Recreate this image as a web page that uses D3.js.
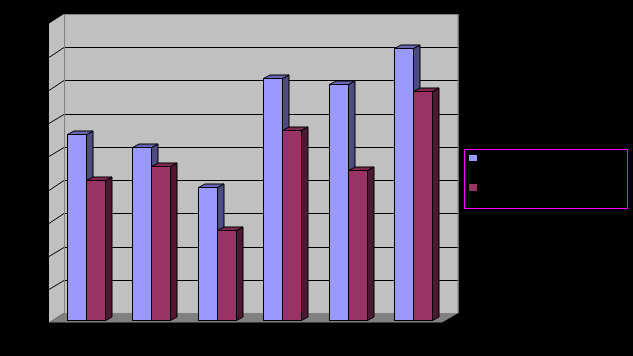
<!DOCTYPE html>
<html><head><meta charset="utf-8">
<script src="https://cdnjs.cloudflare.com/ajax/libs/d3/7.8.5/d3.min.js"></script>
<style>html,body{margin:0;padding:0;background:#000;overflow:hidden}svg{display:block}</style>
</head><body><svg id="c" width="633" height="356"></svg>
<script>
const categories = ["1","2","3","4","5","6"];
const seriesA = [5.62,5.25,4.04,7.31,7.13,8.22];
const seriesB = [4.25,4.66,2.72,5.74,4.54,6.92];
const yTicks = [0,1,2,3,4,5,6,7,8,9];

const svg = d3.select("#c");
const W=633,H=356;
svg.append("rect").attr("width",W).attr("height",H).attr("fill","#000");

const yWall = d3.scaleLinear().domain([0,9]).range([322.5,23.5]);
const y = d3.scaleLinear().domain([0,9]).range([320.5,22.5]);
const x = d3.scaleBand().domain(categories).range([53,446]).paddingInner(0.5).paddingOuter(0.25);
const dx=15, dy=-9.5;      // wall depth
const bdx=6.5, bdy=-3.5;   // bar depth
const yBack = v => yWall(v)+dy;
const x0=49, x1=442;

const poly=(pts,fill,stroke,sw=1)=>svg.append("polygon").attr("points",pts.map(p=>p.join(",")).join(" "))
  .attr("fill",fill).attr("stroke",stroke||"none").attr("stroke-width",sw);

// back wall, side wall, floor
poly([[x0+dx,yBack(9)],[x1+dx+1.5,yBack(9)],[x1+dx+1.5,yBack(0)],[x0+dx,yBack(0)]],"#c0c0c0");
poly([[x0,yWall(9)],[x0+dx,yBack(9)],[x0+dx,yBack(0)],[x0,yWall(0)]],"#c0c0c0");
poly([[x0,yWall(0)],[x0+dx,yBack(0)],[x1+dx+1.5,yBack(0)],[x1,yWall(0)]],"#808080");

// gridlines
svg.append("g").selectAll("path").data(yTicks.slice(1,-1)).join("path")
  .attr("d",v=>`M${x0},${Math.round(yWall(v))+0.5}L${x0+dx},${Math.round(yBack(v))+0.5}L${x1+dx+1.5},${Math.round(yBack(v))+0.5}`)
  .attr("fill","none").attr("stroke","#000").attr("stroke-width",1);
// wall edges
svg.append("path").attr("d",`M${x0+dx+0.5},${yBack(0)}V${yBack(9)+0.5}H${x1+dx+1}V${yBack(0)}`)
  .attr("fill","none").attr("stroke","#808080").attr("stroke-width",1);

function bar(px,w,v,front,top,side){
  const yt=Math.round(y(v))+0.5, yb=y(0);
  poly([[px+w,yb],[px+w+bdx,yb+bdy],[px+w+bdx,yt+bdy],[px+w,yt]],side,"#000");
  poly([[px,yt],[px+bdx,yt+bdy],[px+w+bdx,yt+bdy],[px+w,yt]],top,"#000");
  svg.append("rect").attr("x",px).attr("y",yt).attr("width",w).attr("height",yb-yt)
    .attr("fill",front).attr("stroke","#000").attr("stroke-width",1);
}
const bw=19;
categories.forEach((c,i)=>{
  const px=Math.round(x(c)+x.bandwidth()/2-bw)+0.5;
  bar(px,bw,seriesA[i],"#9999ff","#6666b3","#4c4c80");
  bar(px+bw,bw,seriesB[i],"#993366","#7a2951","#4c1933");
});

// legend
svg.append("rect").attr("x",464.5).attr("y",149.5).attr("width",163).attr("height",59)
  .attr("fill","none").attr("stroke","#ff00ff").attr("stroke-width",1);
[["#9999ff",155,6],["#993366",184,7]].forEach(d=>{
  svg.append("rect").attr("x",469).attr("y",d[1]).attr("width",8).attr("height",d[2]).attr("fill",d[0]);
});
</script></body></html>
